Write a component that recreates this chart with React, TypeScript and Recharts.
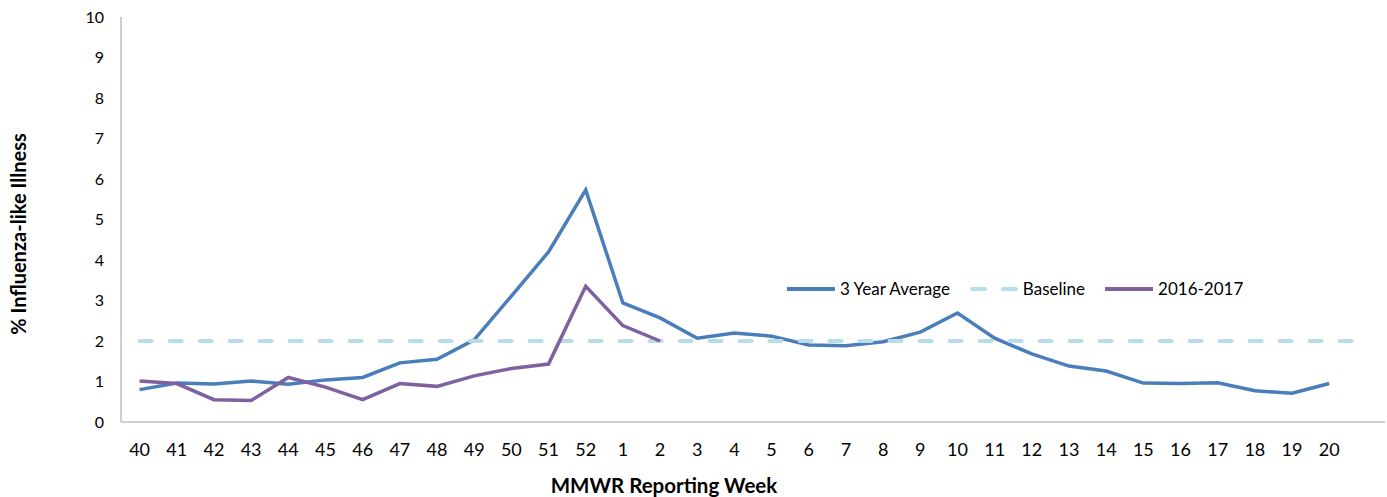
import { LineChart, Line, XAxis, YAxis } from 'recharts';

// last slot is an unlabeled category (the chart's axis runs one week past 20)
const weeks = ['40', '41', '42', '43', '44', '45', '46', '47', '48', '49', '50', '51', '52', '1', '2', '3', '4', '5', '6', '7', '8', '9', '10', '11', '12', '13', '14', '15', '16', '17', '18', '19', '20', ''];

const threeYearAverage = [0.8, 0.96, 0.94, 1.01, 0.93, 1.04, 1.1, 1.46, 1.55, 2.03, 3.11, 4.2, 5.73, 2.94, 2.57, 2.07, 2.2, 2.12, 1.9, 1.88, 1.98, 2.22, 2.69, 2.07, 1.68, 1.38, 1.26, 0.96, 0.95, 0.97, 0.77, 0.71, 0.95];

const season2016 = [1.01, 0.95, 0.55, 0.53, 1.1, 0.86, 0.55, 0.95, 0.88, 1.14, 1.32, 1.43, 3.35, 2.38, 2.0];

const baseline = [2, 2, 2, 2, 2, 2, 2, 2, 2, 2, 2, 2, 2, 2, 2, 2, 2, 2, 2, 2, 2, 2, 2, 2, 2, 2, 2, 2, 2, 2, 2, 2, 2, 2];

const yTicks = [0, 1, 2, 3, 4, 5, 6, 7, 8, 9, 10];

const data = weeks.map((week, i) => ({
  week,
  avg: i < threeYearAverage.length ? threeYearAverage[i] : null,
  baseline: baseline[i],
  season: i < season2016.length ? season2016[i] : null,
}));

const BLUE = '#4a7ebb';
const LIGHT = '#b7dde8';
const PURPLE = '#7f60a0';
const FONT = 'Lato, "Open Sans", sans-serif';

const titleStyle = { fontFamily: FONT, fontSize: 20.5, fontWeight: 700, fill: '#000' };

function LegendBox() {
  const items = [
    { label: '3 Year Average', color: BLUE, dash: undefined as string | undefined },
    { label: 'Baseline', color: LIGHT, dash: '13 18' },
    { label: '2016-2017', color: PURPLE, dash: undefined },
  ];
  return (
    <div style={{ display: 'flex', alignItems: 'center', fontFamily: FONT, fontSize: 17, color: '#000' }}>
      {items.map((it) => (
        <div key={it.label} style={{ display: 'flex', alignItems: 'center', marginRight: 20 }}>
          <svg width={48} height={8} style={{ marginRight: 5 }}>
            <line
              x1={it.dash ? 2 : 0}
              y1={4}
              x2={it.dash ? 46 : 48}
              y2={4}
              stroke={it.color}
              strokeWidth={4}
              strokeDasharray={it.dash}
              strokeLinecap={it.dash ? 'round' : 'butt'}
            />
          </svg>
          <span>{it.label}</span>
        </div>
      ))}
    </div>
  );
}

export default function App() {
  return (
    <div style={{ position: 'absolute', left: 0, top: 0, width: 1387, height: 497, background: '#fff' }}>
      <LineChart width={1387} height={497} data={data} margin={{ top: 17, right: 2, left: 0, bottom: 0 }}>
        <XAxis
          dataKey="week"
          height={75}
          padding={{ left: 18.6, right: 18.6 }}
          axisLine={{ stroke: '#bfbfbf', strokeWidth: 1.5 }}
          tickLine={false}
          tickSize={0}
          tickMargin={21}
          interval={0}
          tick={{ fill: '#000', fontSize: 18, fontFamily: FONT }}
          label={{
            content: () => (
              <text x={664} y={493} textAnchor="middle" style={titleStyle}>
                MMWR Reporting Week
              </text>
            ),
          }}
        />
        <YAxis
          width={121}
          domain={[0, 10]}
          ticks={yTicks}
          interval={0}
          axisLine={{ stroke: '#bfbfbf', strokeWidth: 1.5 }}
          tickLine={false}
          tickSize={0}
          tickMargin={17}
          tick={{ fill: '#000', fontSize: 16, fontFamily: FONT }}
          label={{
            content: () => (
              <text x={26} y={234} textAnchor="middle" transform="rotate(-90 26 234)" style={{ ...titleStyle, fontSize: 20 }}>
                % Influenza-like Illness
              </text>
            ),
          }}
        />
        <Line dataKey="avg" stroke={BLUE} strokeWidth={3.5} dot={false} isAnimationActive={false} />
        <Line dataKey="baseline" stroke={LIGHT} strokeWidth={4} strokeDasharray="12 18" strokeLinecap="round" dot={false} isAnimationActive={false} />
        <Line dataKey="season" stroke={PURPLE} strokeWidth={3.5} dot={false} isAnimationActive={false} connectNulls={false} />
      </LineChart>
      <div style={{ position: 'absolute', left: 787, top: 278 }}>
        <LegendBox />
      </div>
    </div>
  );
}
